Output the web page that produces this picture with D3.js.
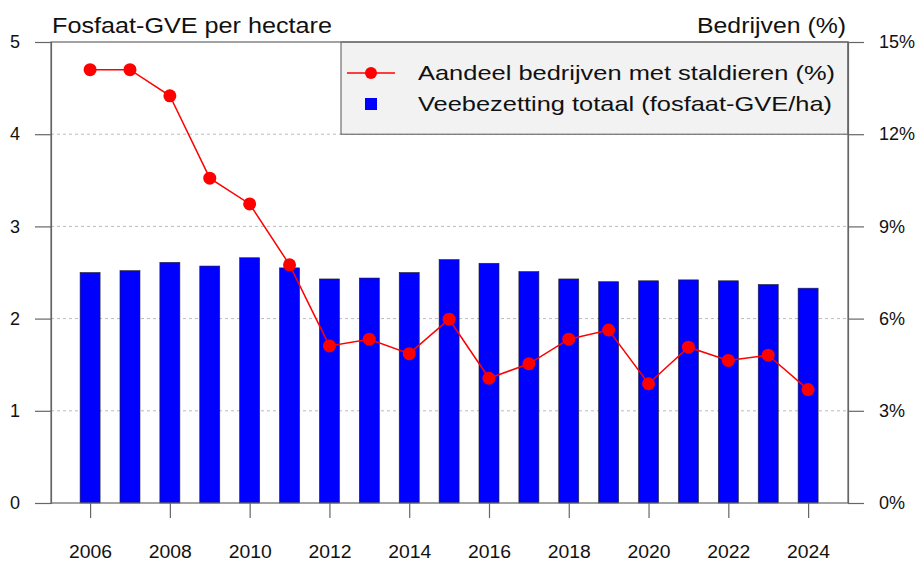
<!DOCTYPE html>
<html>
<head>
<meta charset="utf-8">
<script src="https://cdn.jsdelivr.net/npm/d3@7"></script>
<style>
  body { margin: 0; background: #fff; }
  svg text { font-family: "Liberation Sans", Arial, sans-serif; fill: #111; }
</style>
</head>
<body>
<div id="container"></div>
<script>
const width = 922,
  height = 563,
  margin = {top: 42, bottom: 60, left: 51, right: 74};

// data
const years = [2006, 2007, 2008, 2009, 2010, 2011, 2012, 2013, 2014, 2015,
  2016, 2017, 2018, 2019, 2020, 2021, 2022, 2023, 2024];
const veebezetting = [2.50, 2.52, 2.61, 2.57, 2.66, 2.55, 2.43, 2.44, 2.50, 2.64,
  2.60, 2.51, 2.43, 2.40, 2.41, 2.42, 2.41, 2.37, 2.33];
const staldieren = [14.1, 14.1, 13.25, 10.57, 9.73, 7.75, 5.11, 5.33, 4.86, 5.98,
  4.06, 4.53, 5.33, 5.63, 3.88, 5.07, 4.64, 4.81, 3.69];
const leftTicks = [0, 1, 2, 3, 4, 5];
const rightTicks = [0, 3, 6, 9, 12, 15];
const yearTicks = [2006, 2008, 2010, 2012, 2014, 2016, 2018, 2020, 2022, 2024];
const legendLabels = ["Aandeel bedrijven met staldieren (%)", "Veebezetting totaal (fosfaat-GVE/ha)"];

const x0 = margin.left, x1 = width - margin.right;
const y0 = height - margin.bottom, y1 = margin.top;

const xScale = d3.scaleLinear().domain([2005.02, 2025.0]).range([x0, x1]);
const yScale = d3.scaleLinear().domain([0, 5]).range([y0, y1]);
const pScale = d3.scaleLinear().domain([0, 15]).range([y0, y1]);
const barW = 20;

const svg = d3.select("#container").append("svg")
  .attr("width", width).attr("height", height);

// grid
svg.append("g")
  .selectAll("line")
  .data(leftTicks.slice(1, -1))
  .join("line")
  .attr("x1", x0).attr("x2", x1)
  .attr("y1", d => yScale(d)).attr("y2", d => yScale(d))
  .attr("stroke", "#bbb").attr("stroke-dasharray", "3,3");

// bars
svg.append("g")
  .selectAll("rect")
  .data(years)
  .join("rect")
  .attr("x", d => xScale(d) - barW / 2)
  .attr("y", (d, i) => yScale(veebezetting[i]))
  .attr("width", barW)
  .attr("height", (d, i) => y0 - yScale(veebezetting[i]))
  .attr("fill", "#0000ff")
  .attr("stroke", "#222")
  .attr("stroke-width", 0.6);

// line
const line = d3.line()
  .x((d, i) => xScale(years[i]))
  .y(d => pScale(d));

svg.append("path")
  .datum(staldieren)
  .attr("d", line)
  .attr("fill", "none")
  .attr("stroke", "#ff0000")
  .attr("stroke-width", 1.5);

svg.append("g")
  .selectAll("circle")
  .data(staldieren)
  .join("circle")
  .attr("cx", (d, i) => xScale(years[i]))
  .attr("cy", d => pScale(d))
  .attr("r", 6.5)
  .attr("fill", "#ff0000");

// legend
const lg = svg.append("g");
lg.append("rect")
  .attr("x", 341).attr("y", y1)
  .attr("width", x1 - 341).attr("height", yScale(4) - y1)
  .attr("fill", "#f2f2f2").attr("stroke", "#555").attr("stroke-width", 1);
lg.append("line")
  .attr("x1", 347).attr("x2", 395).attr("y1", 73).attr("y2", 73)
  .attr("stroke", "#ff0000").attr("stroke-width", 1.5);
lg.append("circle")
  .attr("cx", 371).attr("cy", 73).attr("r", 6).attr("fill", "#ff0000");
lg.append("rect")
  .attr("x", 365).attr("y", 98).attr("width", 12).attr("height", 12)
  .attr("fill", "#0000ff");
lg.selectAll("text.leg")
  .data(legendLabels)
  .join("text")
  .attr("class", "leg")
  .attr("x", 418)
  .attr("y", (d, i) => 80 + i * 31)
  .attr("font-size", 21)
  .attr("textLength", (d, i) => i === 0 ? 417 : 414)
  .attr("lengthAdjust", "spacingAndGlyphs")
  .text(d => d);

// axes
const axisColor = "#666";
const leftAxis = svg.append("g")
  .attr("transform", `translate(${x0},0)`)
  .call(d3.axisLeft(yScale).tickValues(leftTicks).tickSize(16).tickPadding(15).tickFormat(d3.format("d")));
const rightAxis = svg.append("g")
  .attr("transform", `translate(${x1},0)`)
  .call(d3.axisRight(pScale).tickValues(rightTicks).tickSize(16).tickPadding(15).tickFormat(d => d + "%"));
const bottomAxis = svg.append("g")
  .attr("transform", `translate(0,${y0})`)
  .call(d3.axisBottom(xScale).tickValues(yearTicks).tickSize(15).tickPadding(27).tickFormat(d3.format("d")));

[leftAxis, rightAxis, bottomAxis].forEach(g => {
  g.select(".domain").attr("stroke", axisColor).attr("stroke-width", 1.2);
  g.selectAll(".tick line").attr("stroke", axisColor).attr("stroke-width", 1.2);
  g.selectAll(".tick text").attr("font-size", 18).attr("fill", "#111")
    .style("font-family", "'Liberation Sans', Arial, sans-serif");
});
bottomAxis.select(".domain").remove();
bottomAxis.selectAll(".tick text").attr("textLength", 43).attr("lengthAdjust", "spacingAndGlyphs");

// plot frame
svg.append("rect")
  .attr("x", x0).attr("y", y1)
  .attr("width", x1 - x0).attr("height", y0 - y1)
  .attr("fill", "none").attr("stroke", axisColor).attr("stroke-width", 1.2);

// titles
svg.append("text")
  .attr("x", 52).attr("y", 33)
  .attr("font-size", 22)
  .attr("textLength", 280)
  .attr("lengthAdjust", "spacingAndGlyphs")
  .text("Fosfaat-GVE per hectare");
svg.append("text")
  .attr("x", 697).attr("y", 33)
  .attr("font-size", 22)
  .attr("textLength", 149)
  .attr("lengthAdjust", "spacingAndGlyphs")
  .text("Bedrijven (%)");
</script>
</body>
</html>
